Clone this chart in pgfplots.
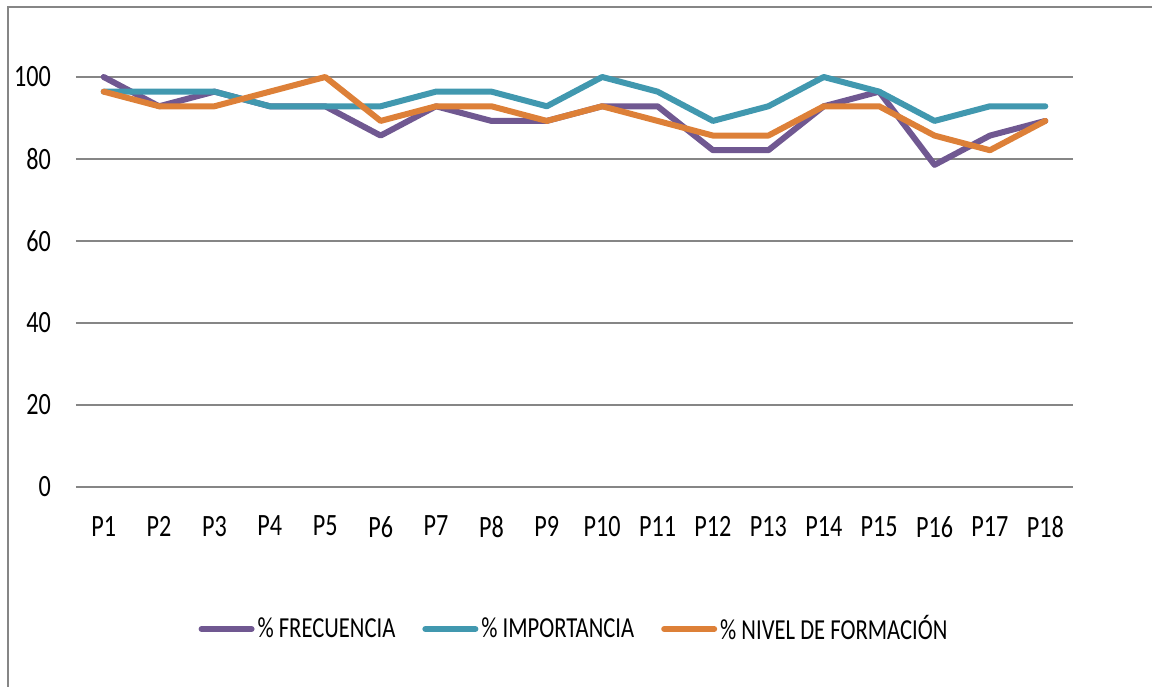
\documentclass[border=0pt]{standalone}
\usepackage{fontspec}
\setmainfont{Carlito}[FakeStretch=0.78]
\usepackage{pgfplots}
\pgfplotsset{compat=1.18}

\definecolor{frec}{HTML}{705891}
\definecolor{imp}{HTML}{4198AF}
\definecolor{form}{HTML}{DD8038}
\definecolor{gridgray}{HTML}{868686}

\begin{document}
\begin{tikzpicture}
\begin{axis}[
    at={(0,0)}, anchor=south west,
    scale only axis,
    width=498.5pt, height=225.5pt,
    xmin=0.5, xmax=18.5,
    ymin=0, ymax=110,
    xtick={1,...,18},
    xticklabels={P1,P2,P3,P4,P5,P6,P7,P8,P9,P10,P11,P12,P13,P14,P15,P16,P17,P18},
    ytick={0,20,40,60,80,100},
    xmajorgrids=false,
    ymajorgrids=true,
    major grid style={draw=gridgray, line width=1pt},
    axis line style={draw=none},
    major tick style={draw=none},
    tick label style={font=\fontsize{15.5}{17}\selectfont},
    /pgf/number format/assume math mode=true,
    xticklabel style={yshift=-11pt},
    yticklabel style={xshift=-9pt},
    legend columns=3,
    legend style={at={(0.5,-71pt)}, anchor=center, draw=none, fill=none,
        font=\fontsize{14.5}{16}\selectfont,
        nodes={inner xsep=1.5pt},
        /tikz/every even column/.append style={column sep=12pt}},
    legend image code/.code={\draw[#1, line cap=round] (0cm,0cm) -- (25pt,0cm);},
    every axis plot/.append style={line width=3pt, line join=round, line cap=round, no marks},
]
\addplot[frec] coordinates {
    (1,100) (2,92.86) (3,96.43) (4,92.86) (5,92.86) (6,85.71) (7,92.86) (8,89.29) (9,89.29)
    (10,92.86) (11,92.86) (12,82.14) (13,82.14) (14,92.86) (15,96.43) (16,78.57) (17,85.71) (18,89.29)
};
\addlegendentry{\% FRECUENCIA}
\addplot[imp] coordinates {
    (1,96.43) (2,96.43) (3,96.43) (4,92.86) (5,92.86) (6,92.86) (7,96.43) (8,96.43) (9,92.86)
    (10,100) (11,96.43) (12,89.29) (13,92.86) (14,100) (15,96.43) (16,89.29) (17,92.86) (18,92.86)
};
\addlegendentry{\% IMPORTANCIA}
\addplot[form] coordinates {
    (1,96.43) (2,92.86) (3,92.86) (4,96.43) (5,100) (6,89.29) (7,92.86) (8,92.86) (9,89.29)
    (10,92.86) (11,89.29) (12,85.71) (13,85.71) (14,92.86) (15,92.86) (16,85.71) (17,82.14) (18,89.29)
};
\addlegendentry{\% NIVEL DE FORMACIÓN}
\end{axis}
\pgfresetboundingbox
\path[use as bounding box] (-38pt,-99.5pt) rectangle (538pt,243.5pt);
\draw[gridgray, line width=1pt] (-34pt,-120pt) -- (-34pt,240pt) -- (560pt,240pt);
\end{tikzpicture}
\end{document}
